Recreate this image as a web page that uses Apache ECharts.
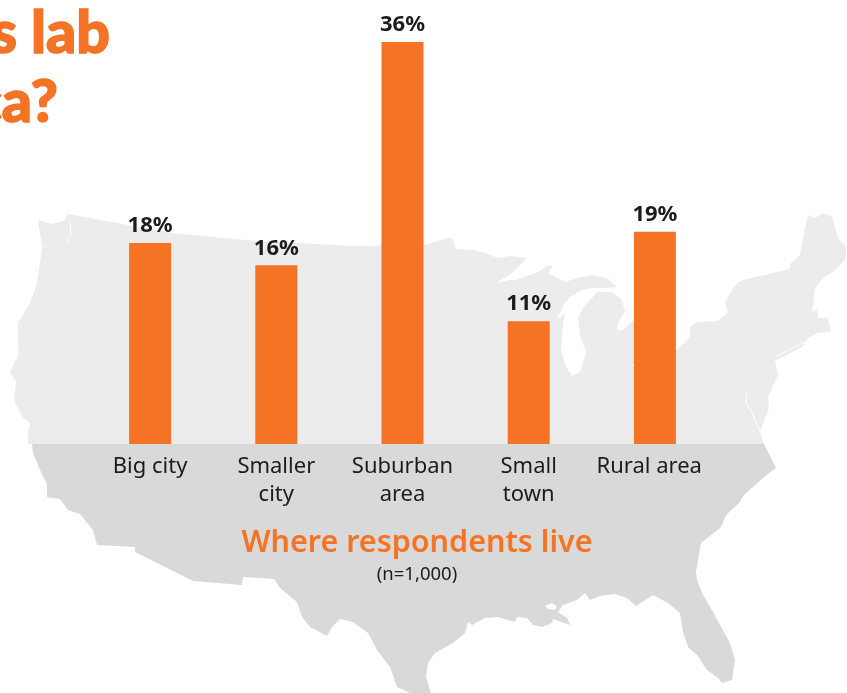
<!DOCTYPE html>
<html>
<head>
<meta charset="utf-8">
<style>
  html, body { margin: 0; padding: 0; background: #fff; overflow: hidden; }
  #chart { width: 847px; height: 693px; }
</style>
<script src="https://cdn.jsdelivr.net/npm/echarts@6/dist/echarts.min.js"></script>
</head>
<body>
<div id="chart"></div>
<script>
const categories = ['Big city', 'Smaller\ncity', 'Suburban\narea', 'Small\ntown', 'Rural area  ']
const shares = [18, 16, 36, 11, 19]

const ORANGE = '#f47324'
const TEXT = '#1c1c1a'
const FONT = '"Noto Sans", "Open Sans", sans-serif'

// background silhouette, split in two tones at the baseline
const mapUpper = [[28, 444], [28, 433], [30, 423], [22, 417], [14, 400], [16, 382], [10, 372], [19, 353], [18, 343], [18, 323],
  [30, 303], [37, 283], [40, 263], [42, 247], [38, 220], [52, 224], [64, 221], [68, 214], [172, 233], [255, 241],
  [297, 243], [353, 246], [424, 245], [448, 238], [452, 238], [456, 249], [474, 250], [485, 253], [498, 258], [510, 256], [527, 258],
  [512, 273], [495, 284], [508, 280], [515, 280], [525, 277], [538, 272], [547, 266], [553, 266], [548, 273], [565, 282], [580, 277],
  [593, 275], [607, 278], [617, 287], [605, 288], [593, 288], [582, 290], [570, 297], [563, 305], [557, 320], [565, 313], [563, 325],
  [561, 348], [565, 365], [572, 376], [580, 372], [586, 352], [580, 335], [578, 318], [585, 305], [592, 298], [597, 292], [612, 292],
  [622, 300], [625, 312], [618, 323], [617, 330], [623, 330], [633, 321], [640, 325], [640, 358], [630, 367], [640, 364], [675, 352],
  [690, 337], [690, 327], [697, 322], [718, 321], [728, 312], [725, 302], [737, 283], [743, 280], [790, 269], [790, 264], [800, 255],
  [803, 238], [808, 215], [815, 218], [823, 213], [832, 217], [838, 238], [847, 248], [845, 260], [835, 270], [823, 278], [815, 288],
  [812, 312], [817, 310], [818, 318], [828, 318], [831, 332], [818, 333], [808, 338], [802, 347], [775, 361], [778, 375], [768, 397],
  [769, 408], [760, 432], [762, 438], [764, 444]]
const mapLower = [[32, 444], [33, 453], [43, 477], [47, 483], [47, 497], [60, 499], [68, 510], [80, 514], [93, 530], [97, 545],
  [135, 547], [135, 552], [193, 581], [242, 585], [243, 577], [274, 579], [280, 588], [297, 602], [302, 617], [310, 627], [327, 636],
  [332, 627], [340, 619], [353, 622], [368, 633], [377, 650], [390, 667], [397, 687], [410, 693], [431, 693], [426, 677], [428, 663],
  [435, 653], [453, 643], [465, 633], [468, 622], [472, 625], [485, 618], [498, 617], [515, 622], [517, 617], [527, 618], [533, 625],
  [542, 627], [552, 623], [553, 619], [570, 625], [567, 618], [558, 612], [563, 605], [577, 600], [585, 593], [590, 600], [600, 596],
  [615, 594], [627, 598], [636, 606], [653, 595], [668, 603], [680, 613], [683, 632], [688, 647], [697, 655], [707, 670], [718, 678],
  [722, 683], [732, 680], [735, 660], [730, 643], [713, 612], [703, 595], [697, 580], [696, 572], [701, 543], [721, 527], [726, 515],
  [739, 503], [744, 495], [764, 477], [776, 468], [771, 458], [764, 444]]
const pontchartrain = [[545, 606], [552, 603], [557, 606], [555, 610], [548, 609]]
const inlets = [
  [[775, 357], [805, 342]],
  [[747, 390], [746, 402], [753, 415], [760, 431]],
  [[70, 220], [71, 235], [66, 243]]
]

const chart = echarts.init(document.getElementById('chart'))

const titleStyle = { align: 'right', fill: ORANGE, stroke: ORANGE, lineWidth: 1.5, font: '900 59px Lato, sans-serif' }

const option = {
  backgroundColor: '#fff',
  animation: false,
  grid: { left: 87, right: 129, top: 42, bottom: 249 },
  xAxis: {
    type: 'category',
    data: categories,
    axisLine: { show: false },
    axisTick: { show: false },
    axisLabel: {
      color: TEXT,
      fontFamily: FONT,
      fontSize: 22,
      lineHeight: 28,
      margin: 9,
      interval: 0
    }
  },
  yAxis: {
    type: 'value',
    min: 0,
    max: 36,
    show: false
  },
  series: [
    {
      type: 'bar',
      data: shares,
      barWidth: 42,
      itemStyle: { color: ORANGE },
      label: {
        show: true,
        position: 'top',
        formatter: '{c}%',
        color: TEXT,
        fontFamily: FONT,
        fontSize: 22,
        fontWeight: 'bold',
        distance: 6
      }
    }
  ],
  graphic: [
    { type: 'polygon', z: -10, silent: true, shape: { points: mapUpper }, style: { fill: '#ececec' } },
    { type: 'polygon', z: -9, silent: true, shape: { points: mapLower }, style: { fill: '#d9d9d9' } },
    { type: 'polygon', z: -8, silent: true, shape: { points: pontchartrain }, style: { fill: '#fff' } },
    ...inlets.map(points => ({ type: 'polyline', z: -8, silent: true, shape: { points }, style: { stroke: '#fff', lineWidth: 1, fill: 'none' } })),
    { type: 'text', x: 110, y: 4, style: { text: 's lab', ...titleStyle } },
    { type: 'text', x: 58, y: 73, style: { text: 'ca?', ...titleStyle } },
    { type: 'text', x: 417, y: 543, style: { text: 'Where respondents live', align: 'center', verticalAlign: 'middle', fill: ORANGE, font: '600 30.5px "Noto Sans", sans-serif' } },
    { type: 'text', x: 417, y: 575, style: { text: '(n=1,000)', align: 'center', verticalAlign: 'middle', fill: TEXT, font: '18.5px "Noto Sans", sans-serif' } }
  ]
}

chart.setOption(option)
</script>
</body>
</html>
